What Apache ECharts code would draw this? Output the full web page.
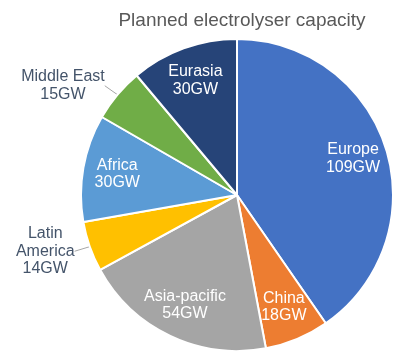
<!DOCTYPE html>
<html><head><meta charset="utf-8">
<script src="https://cdn.jsdelivr.net/npm/echarts@6/dist/echarts.min.js"></script>
<style>html,body{margin:0;padding:0;background:#fff}#c{width:409px;height:358px}</style>
</head><body><div id="c"></div>
<script>
const categories = ['Europe','China','Asia-pacific','Latin America','Africa','Middle East','Eurasia'];
const values = [109, 18, 54, 14, 30, 15, 30];
const unit = 'GW';
const outsideLabels = ['Latin America','Middle East'];
const wrapNames = ['Latin America'];
const palette = ['#4472C4','#ED7D31','#A5A5A5','#FFC000','#5B9BD5','#70AD47','#264478'];

const R = 156, CX = 237, CY = 195;
const font = 'Liberation Sans, Arial, sans-serif';

function lines(p) {
  const nm = wrapNames.includes(p.name) ? p.name.split(' ') : [p.name];
  return nm.concat([p.value + unit]).join('\n');
}

const mainData = categories.map((n, i) => {
  const out = outsideLabels.includes(n);
  return {
    name: n, value: values[i],
    itemStyle: {color: palette[i]},
    label: {show: out},
    labelLine: {show: out}
  };
});
const ringData = categories.map((n, i) => ({
  name: n, value: values[i],
  label: {show: !outsideLabels.includes(n)}
}));

const chart = echarts.init(document.getElementById('c'));
chart.setOption({
  animation: false,
  title: {text: 'Planned electrolyser capacity', left: CX, top: 6, textAlign: 'center',
    textStyle: {fontFamily: font, fontSize: 19, fontWeight: 'normal', color: '#595959'}},
  series: [{
    type: 'pie', center: [CX, CY], radius: R, startAngle: 90, clockwise: true,
    silent: true, avoidLabelOverlap: false,
    itemStyle: {borderColor: '#fff', borderWidth: 2},
    label: {position: 'outside', formatter: lines, distanceToLabelLine: 2,
      fontFamily: font, fontSize: 16, lineHeight: 17.5, color: '#44546A'},
    labelLine: {length: 14, length2: 0, lineStyle: {color: '#A6A6A6', width: 1}},
    labelLayout: function (params) {
      const r = params.labelRect;
      return {x: r.x + r.width / 2, y: r.y + r.height / 2, align: 'center', verticalAlign: 'middle'};
    },
    data: mainData
  }, {
    type: 'pie', center: [CX, CY], radius: [R * 0.52, R], startAngle: 90, clockwise: true,
    silent: true, itemStyle: {color: 'rgba(0,0,0,0)'},
    label: {position: 'inside', formatter: p => p.name + '\n' + p.value + unit,
      fontFamily: font, fontSize: 16, lineHeight: 17.5, color: '#fff'},
    labelLine: {show: false},
    data: ringData
  }]
});
</script></body></html>
